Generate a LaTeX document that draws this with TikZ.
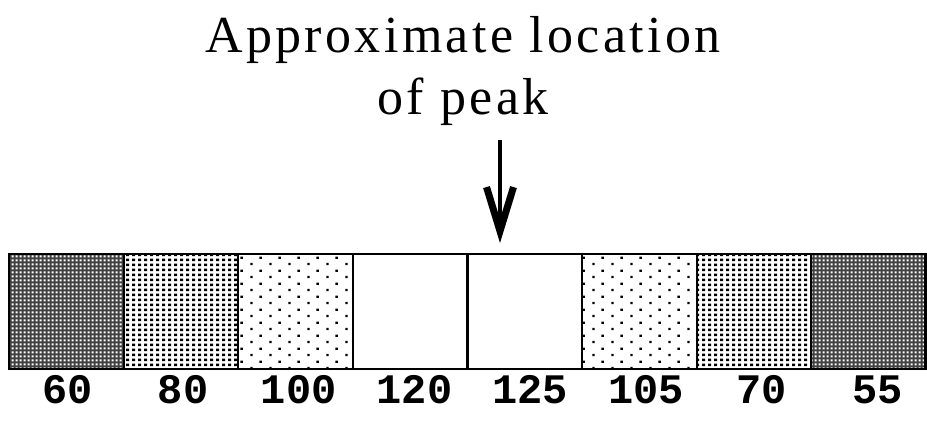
\documentclass[tikz,border=0pt]{standalone}
\usepackage{fontspec}
\newfontfamily\valfont{Liberation Mono}
\newfontfamily\titlefont{Liberation Serif}[LetterSpace=6.5]
\usepackage{tikz}
\usetikzlibrary{arrows.meta, patterns.meta, positioning, calc}

\tikzdeclarepattern{
  name=densegrid, type=uncolored,
  bottom left={(0pt,0pt)}, top right={(3.7pt,3.7pt)},
  tile size={(3.7pt,3.7pt)},
  code={\fill (0.8pt,0.8pt) rectangle (2.9pt,2.9pt);}
}
\tikzdeclarepattern{
  name=squaredots, type=uncolored,
  bottom left={(0pt,0pt)}, top right={(5.7pt,5pt)},
  tile size={(5.7pt,5pt)},
  code={\fill (1.3pt,1.0pt) rectangle (4.3pt,4.0pt);}
}
\tikzdeclarepattern{
  name=sparsedots, type=uncolored,
  bottom left={(0pt,0pt)}, top right={(19pt,12.6pt)},
  tile size={(19pt,12.6pt)},
  code={\fill (3.55pt,1.95pt) rectangle (5.95pt,4.35pt);
        \fill (13.05pt,8.25pt) rectangle (15.45pt,10.65pt);}
}

\begin{document}
\begin{tikzpicture}[
  x=1pt, y=1pt,
  cell/.style={draw, line width=2.2pt, minimum width=114.6pt,
    minimum height=115pt, inner sep=0pt, outer sep=0pt},
  dark/.style={cell, preaction={fill=black!75}, pattern=densegrid, pattern color=white},
  mid/.style={cell, pattern=squaredots, pattern color=black},
  light/.style={cell, pattern=sparsedots, pattern color=black},
  blank/.style={cell, fill=white},
  val/.style={font=\valfont\bfseries\fontsize{42}{42}\selectfont, anchor=base, inner sep=0pt},
  title/.style={font=\titlefont\fontsize{52}{62}\selectfont, align=center, inner sep=0pt},
  >={Straight Barb[length=44pt, width=27pt, line width=7pt]}
]
  \useasboundingbox (0,0) rectangle (927,421);

  \node[title] (title) at (463,350) {Approximate location\\of peak};

  \foreach \kind [count=\i] in {dark, mid, light, blank, blank, light, mid, dark}
    \node[\kind] (c\i) at ({9+114.6*(\i-0.5)}, 109.5) {};
  \draw[line width=2.8pt] (c1.north west) rectangle (c8.south east);

  \foreach \v [count=\i] in {60, 80, 100, 120, 125, 105, 70, 55}
    \node[val] (v\i) at ([xshift={1.1*\i*1pt}, yshift=-34pt]c\i.south) {\v};

  \coordinate (tail) at (500,281);
  \coordinate (peak) at (500,178);
  \draw[->, line width=4pt] (tail) -- (peak);
\end{tikzpicture}
\end{document}
